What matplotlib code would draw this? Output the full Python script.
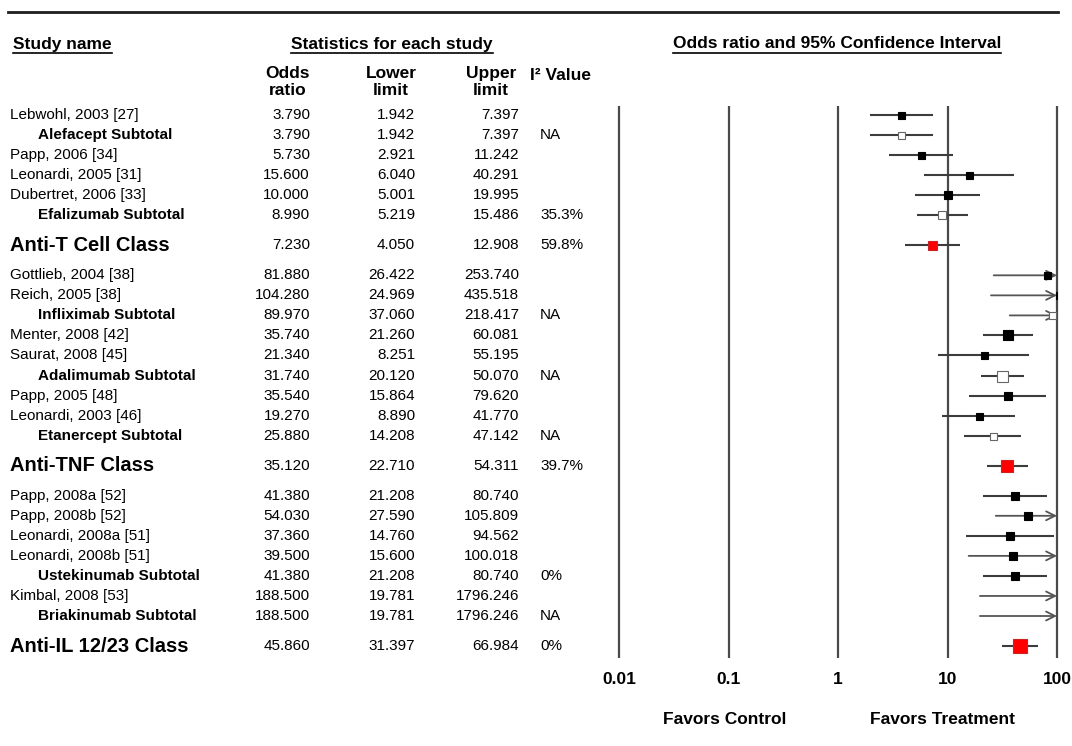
import numpy as np
import matplotlib
matplotlib.use('Agg')
import matplotlib.pyplot as plt

plt.rcParams['font.family'] = ['Liberation Sans', 'DejaVu Sans']

names = [
    'Lebwohl, 2003 [27]', 'Alefacept Subtotal', 'Papp, 2006 [34]', 'Leonardi, 2005 [31]',
    'Dubertret, 2006 [33]', 'Efalizumab Subtotal', 'Anti-T Cell Class',
    'Gottlieb, 2004 [38]', 'Reich, 2005 [38]', 'Infliximab Subtotal', 'Menter, 2008 [42]',
    'Saurat, 2008 [45]', 'Adalimumab Subtotal', 'Papp, 2005 [48]', 'Leonardi, 2003 [46]',
    'Etanercept Subtotal', 'Anti-TNF Class',
    'Papp, 2008a [52]', 'Papp, 2008b [52]', 'Leonardi, 2008a [51]', 'Leonardi, 2008b [51]',
    'Ustekinumab Subtotal', 'Kimbal, 2008 [53]', 'Briakinumab Subtotal', 'Anti-IL 12/23 Class',
]
kinds = ['study', 'sub', 'study', 'study', 'study', 'sub', 'class',
         'study', 'study', 'sub', 'study', 'study', 'sub', 'study', 'study', 'sub', 'class',
         'study', 'study', 'study', 'study', 'sub', 'study', 'sub', 'class']
odds = [3.790, 3.790, 5.730, 15.600, 10.000, 8.990, 7.230,
        81.880, 104.280, 89.970, 35.740, 21.340, 31.740, 35.540, 19.270, 25.880, 35.120,
        41.380, 54.030, 37.360, 39.500, 41.380, 188.500, 188.500, 45.860]
lower = [1.942, 1.942, 2.921, 6.040, 5.001, 5.219, 4.050,
         26.422, 24.969, 37.060, 21.260, 8.251, 20.120, 15.864, 8.890, 14.208, 22.710,
         21.208, 27.590, 14.760, 15.600, 21.208, 19.781, 19.781, 31.397]
upper = [7.397, 7.397, 11.242, 40.291, 19.995, 15.486, 12.908,
         253.740, 435.518, 218.417, 60.081, 55.195, 50.070, 79.620, 41.770, 47.142, 54.311,
         80.740, 105.809, 94.562, 100.018, 80.740, 1796.246, 1796.246, 66.984]
i2 = ['', 'NA', '', '', '', '35.3%', '59.8%',
      '', '', 'NA', '', '', 'NA', '', '', 'NA', '39.7%',
      '', '', '', '', '0%', '', 'NA', '0%']
# box side in pixels (study weight)
box_px = [7, 7, 7, 7, 8, 8, 9,
          7, 7, 7, 10, 7, 11, 8, 7, 7, 12,
          8, 8, 8, 8, 8, 7, 7, 14]
# box fill: black study, open subtotal, red class
box_fill = ['black', 'white', 'black', 'black', 'black', 'white', 'red',
            'black', 'black', 'white', 'black', 'black', 'white', 'black', 'black', 'white', 'red',
            'black', 'black', 'black', 'black', 'black', 'black', 'white', 'red']
axis_ticks = [0.01, 0.1, 1, 10, 100]
tick_labels = ['0.01', '0.1', '1', '10', '100']

W, H = 1072, 746
ROW0, STEP = 115, 20.04

# row positions: class rows get half a row of space on each side
rows = []
r = 0.0
for k in kinds:
    if k == 'class':
        r += 0.5
    rows.append(r)
    r += 1.5 if k == 'class' else 1.0

fig = plt.figure(figsize=(W / 100, H / 100), dpi=100)
ax_t = fig.add_axes([0, 0, 1, 1])
ax_t.set_xlim(0, W)
ax_t.set_ylim(H, 0)
ax_t.axis('off')

# forest panel, pixel span 619..1057 horizontally, 100..660 vertically
fx0, fx1, fy0, fy1 = 619, 1057, 100, 660
ax = fig.add_axes([fx0 / W, 1 - fy1 / H, (fx1 - fx0) / W, (fy1 - fy0) / H])
ax.set_xscale('log')
ax.set_xlim(0.01, 100)
ax.set_ylim((fy1 - ROW0) / STEP, (fy0 - ROW0) / STEP)
ax.patch.set_alpha(0)
for s in ax.spines.values():
    s.set_visible(False)
ax.set_yticks([])
ax.set_xticks(axis_ticks)
ax.set_xticklabels(tick_labels, fontsize=12.5, fontweight='bold')
ax.minorticks_off()
ax.tick_params(axis='x', length=0, pad=9)
ax.vlines(axis_ticks, (106 - ROW0) / STEP, (658 - ROW0) / STEP, color='#4a4a4a', lw=1.6,
          clip_on=False)

edge = {'black': 'black', 'white': '#666666', 'red': '#cc2222'}
for i, k in enumerate(kinds):
    y = rows[i]
    lo, hi, od = lower[i], upper[i], odds[i]
    if hi > 100:
        ax.annotate('', xy=(100, y), xytext=(lo, y),
                    arrowprops=dict(arrowstyle='->', color='#555555', lw=1.3,
                                    mutation_scale=16, shrinkA=0, shrinkB=0))
    else:
        ax.plot([lo, hi], [y, y], color='#3c3c3c', lw=1.5, solid_capstyle='butt')
    fc = '#ff0000' if box_fill[i] == 'red' else box_fill[i]
    ax.plot([od], [y], marker='s', ms=box_px[i] * 0.72, mfc=fc, mec=edge[box_fill[i]],
            mew=0.8, linestyle='none', zorder=5)

# table text
for i, k in enumerate(kinds):
    y = ROW0 + rows[i] * STEP
    if k == 'class':
        ax_t.text(10, y, names[i], fontsize=14.5, fontweight='bold', va='center')
    elif k == 'sub':
        ax_t.text(38, y, names[i], fontsize=11, fontweight='bold', va='center')
    else:
        ax_t.text(10, y, names[i], fontsize=11, va='center')
    ax_t.text(310, y, f'{odds[i]:.3f}', fontsize=11, va='center', ha='right')
    ax_t.text(415, y, f'{lower[i]:.3f}', fontsize=11, va='center', ha='right')
    ax_t.text(519, y, f'{upper[i]:.3f}', fontsize=11, va='center', ha='right')
    ax_t.text(540, y, i2[i], fontsize=11, va='center')

ax_t.plot([8, 1058], [12, 12], color='#1e1e1e', lw=2)

headers = [
    ax_t.text(13, 44, 'Study name', fontsize=12.5, fontweight='bold', va='center'),
    ax_t.text(392, 44, 'Statistics for each study', fontsize=12.5, fontweight='bold',
              va='center', ha='center'),
    ax_t.text(837, 44, 'Odds ratio and 95% Confidence Interval', fontsize=12.5,
              fontweight='bold', va='center', ha='center'),
]
for x, lab in [(288, 'Odds\nratio'), (391, 'Lower\nlimit'), (491, 'Upper\nlimit')]:
    ax_t.text(x, 82, lab, fontsize=12.5, fontweight='bold', va='center', ha='center',
              linespacing=1.15)
ax_t.text(530, 75, 'I² Value', fontsize=12.5, fontweight='bold', va='center')
ax_t.text(725, 720, 'Favors Control', fontsize=12.5, fontweight='bold', va='center', ha='center')
ax_t.text(943, 720, 'Favors Treatment', fontsize=12.5, fontweight='bold', va='center',
          ha='center')

# underline the section headers
fig.canvas.draw()
renderer = fig.canvas.get_renderer()
for t in headers:
    bb = t.get_window_extent(renderer)
    ax_t.plot([bb.x0, bb.x1], [H - bb.y0 + 1, H - bb.y0 + 1], color='black', lw=1.2)

fig.savefig('out.png', dpi=100)
